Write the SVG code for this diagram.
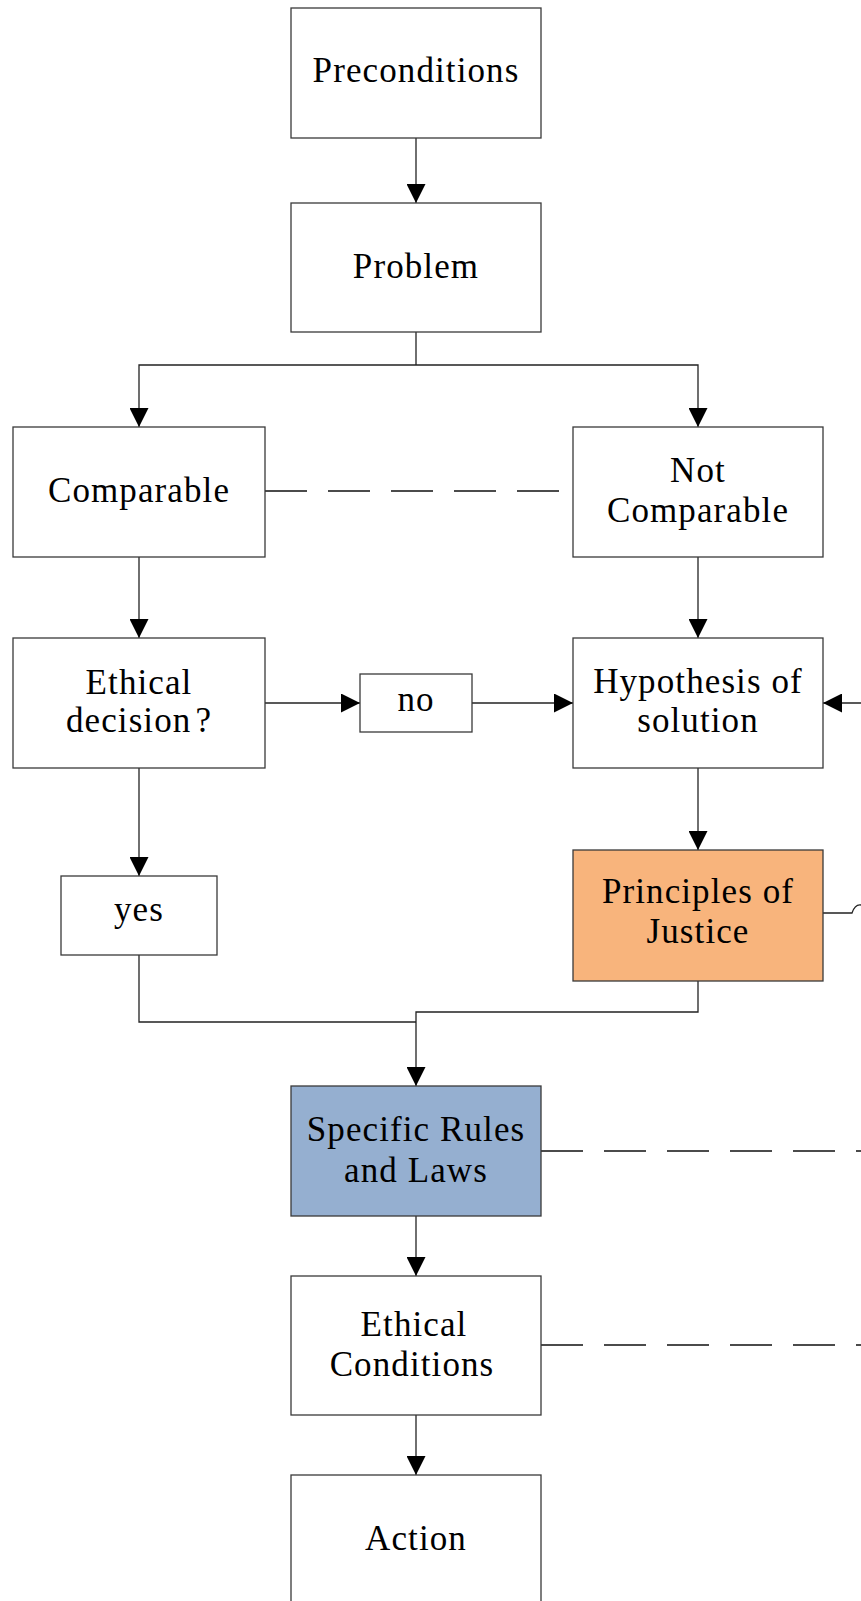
<svg xmlns="http://www.w3.org/2000/svg" width="861" height="1601" viewBox="0 0 861 1601">
<style>
.box{fill:#fff;stroke:#3a3a3a;stroke-width:1.3}
.orange{fill:#F8B47C}
.blue{fill:#95AFD0}
.t{font-family:"Liberation Serif","Times New Roman",serif;font-size:35px;letter-spacing:1.1px;fill:#000;text-anchor:middle}
.c{fill:none;stroke:#222;stroke-width:1.3}
.d{fill:none;stroke:#111;stroke-width:1.6;stroke-dasharray:42 21}
</style>
<defs>
<marker id="arr" markerUnits="userSpaceOnUse" markerWidth="19" markerHeight="19" refX="19" refY="9.5" orient="auto">
<path d="M0,0 L19,9.5 L0,19 Z" fill="#000"/>
</marker>
</defs>
<g id="connectors">
<path class="c" d="M416,138 V203" marker-end="url(#arr)"/>
<path class="c" d="M416,332 V365"/>
<path class="c" d="M416,365 H139 V427" marker-end="url(#arr)"/>
<path class="c" d="M416,365 H698 V427" marker-end="url(#arr)"/>
<path class="c" d="M139,557 V638" marker-end="url(#arr)"/>
<path class="c" d="M698,557 V638" marker-end="url(#arr)"/>
<path class="c" d="M265,703 H360" marker-end="url(#arr)"/>
<path class="c" d="M472,703 H573" marker-end="url(#arr)"/>
<path class="c" d="M139,768 V876" marker-end="url(#arr)"/>
<path class="c" d="M698,768 V850" marker-end="url(#arr)"/>
<path class="c" d="M139,955 V1022 H416"/>
<path class="c" d="M698,981 V1012 H416 V1086" marker-end="url(#arr)"/>
<path class="c" d="M416,1216 V1276" marker-end="url(#arr)"/>
<path class="c" d="M416,1415 V1475" marker-end="url(#arr)"/>
<path class="c" d="M861,703 H823" marker-end="url(#arr)"/>
<path class="c" d="M823,913 H852 Q855,904 861,905"/>
<path class="d" d="M265,491 H573"/>
<path class="d" d="M541,1151 H861"/>
<path class="d" d="M541,1345 H861"/>
</g>
<g id="preconditions"><rect class="box" x="291" y="8" width="250" height="130"/><text class="t" x="416" y="82">Preconditions</text></g>
<g id="problem"><rect class="box" x="291" y="203" width="250" height="129"/><text class="t" x="416" y="278">Problem</text></g>
<g id="comparable"><rect class="box" x="13" y="427" width="252" height="130"/><text class="t" x="139" y="502">Comparable</text></g>
<g id="not-comparable"><rect class="box" x="573" y="427" width="250" height="130"/><text class="t" x="698" y="482">Not</text><text class="t" x="698" y="522">Comparable</text></g>
<g id="ethical-decision"><rect class="box" x="13" y="638" width="252" height="130"/><text class="t" x="139" y="694">Ethical</text><text class="t" x="139" y="732">decision<tspan dx="4">?</tspan></text></g>
<g id="no"><rect class="box" x="360" y="674" width="112" height="58"/><text class="t" x="416" y="711">no</text></g>
<g id="hypothesis"><rect class="box" x="573" y="638" width="250" height="130"/><text class="t" x="698" y="693">Hypothesis of</text><text class="t" x="698" y="732">solution</text></g>
<g id="yes"><rect class="box" x="61" y="876" width="156" height="79"/><text class="t" x="139" y="921">yes</text></g>
<g id="principles"><rect class="box orange" x="573" y="850" width="250" height="131"/><text class="t" x="698" y="903">Principles of</text><text class="t" x="698" y="943">Justice</text></g>
<g id="specific-rules"><rect class="box blue" x="291" y="1086" width="250" height="130"/><text class="t" x="416" y="1141">Specific Rules</text><text class="t" x="416" y="1182">and Laws</text></g>
<g id="ethical-conditions"><rect class="box" x="291" y="1276" width="250" height="139"/><text class="t" x="414" y="1336">Ethical</text><text class="t" x="412" y="1376">Conditions</text></g>
<g id="action"><rect class="box" x="291" y="1475" width="250" height="135"/><text class="t" x="416" y="1550">Action</text></g>
</svg>
